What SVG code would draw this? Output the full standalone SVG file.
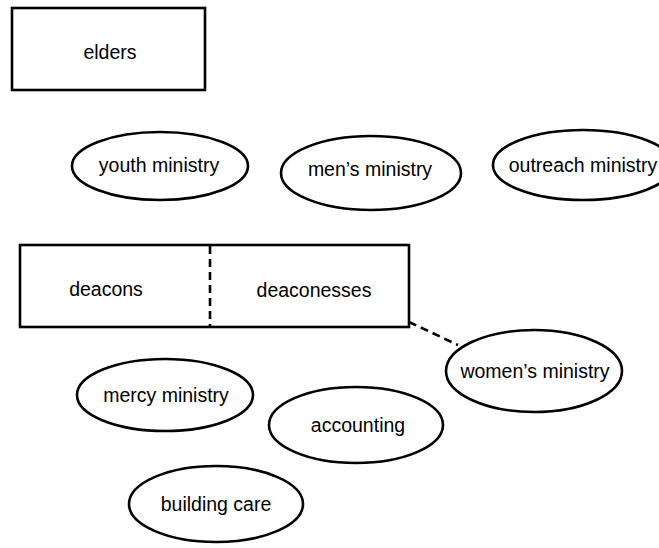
<svg xmlns="http://www.w3.org/2000/svg" width="659" height="548" viewBox="0 0 659 548">
<style>
.s{fill:#fff;stroke:#000;stroke-width:2.6}
.d{fill:none;stroke:#000;stroke-width:2.6;stroke-dasharray:8,5}
text{font-family:"Liberation Sans",Arial,sans-serif;font-size:19.5px;fill:#000;text-anchor:middle}
</style>
<rect width="659" height="548" fill="#fff"/>
<g id="connectors">
<line class="d" x1="409" y1="322" x2="458" y2="345"/>
</g>
<g id="elders"><rect class="s" x="12" y="8" width="193" height="82"/><text x="110" y="59">elders</text></g>
<g id="youth"><ellipse class="s" cx="160" cy="166" rx="88" ry="34"/><text x="159" y="172">youth ministry</text></g>
<g id="mens"><ellipse class="s" cx="371" cy="173" rx="90" ry="37"/><text x="370" y="176">men’s ministry</text></g>
<g id="outreach"><ellipse class="s" cx="583" cy="165" rx="90" ry="35"/><text x="583" y="172">outreach ministry</text></g>
<g id="deacons-box"><rect class="s" x="20" y="245" width="389" height="82"/><line class="d" x1="210" y1="246" x2="210" y2="326"/></g>
<g id="deacons"><text x="106" y="296">deacons</text></g>
<g id="deaconesses"><text x="314" y="297">deaconesses</text></g>
<g id="womens"><ellipse class="s" cx="534" cy="371" rx="88" ry="41"/><text x="535" y="378">women’s ministry</text></g>
<g id="mercy"><ellipse class="s" cx="165" cy="395" rx="88" ry="36"/><text x="166" y="402">mercy ministry</text></g>
<g id="accounting"><ellipse class="s" cx="356" cy="425" rx="87" ry="38"/><text x="358" y="432">accounting</text></g>
<g id="building"><ellipse class="s" cx="216" cy="504" rx="87" ry="38"/><text x="216" y="511">building care</text></g>
</svg>
